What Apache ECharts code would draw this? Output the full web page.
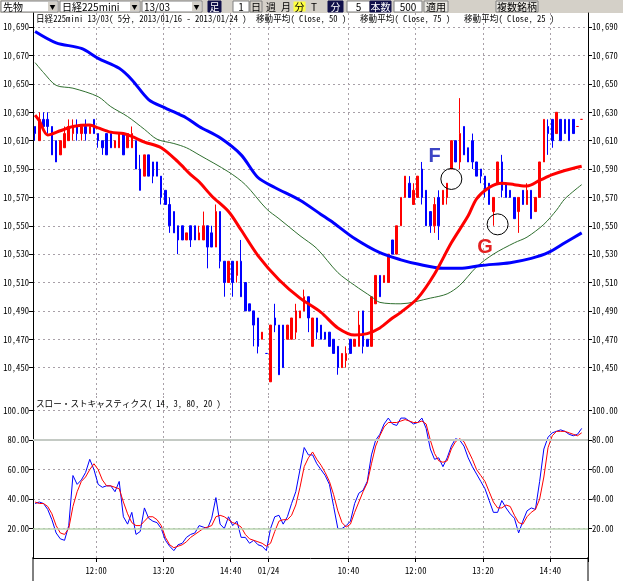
<!DOCTYPE html>
<html>
<head>
<meta charset="utf-8">
<script src="https://cdn.jsdelivr.net/npm/echarts@6/dist/echarts.min.js"></script>
<style>
  html, body { margin: 0; padding: 0; background: #fff; }
  #chart { width: 623px; height: 581px; }
</style>
</head>
<body>
<div id="chart"></div>
<script>
// 5分足 slots (bar index 0..131), labelled ticks
const barCount = 132;
const tickIdx  = [15, 31, 47, 56, 75, 91, 107, 123];
const tickText = ['12:00', '13:20', '14:40', '01/24', '10:40', '12:00', '13:20', '14:40'];

// candles: [open, close, low, high]
const candles = [
  [10620,10615,10610,10620],[10610,10625,10610,10630],[10625,10620,10620,10630],[10625,10620,10615,10630],
  [10620,10600,10600,10620],[10610,10595,10595,10610],[10600,10610,10600,10610],[10605,10615,10605,10620],
  [10610,10620,10610,10625],[10615,10620,10610,10625],[10620,10615,10610,10625],[10615,10620,10610,10620],
  [10620,10615,10610,10625],[10615,10620,10615,10620],[10625,10615,10615,10625],[10615,10610,10605,10615],
  [10610,10605,10600,10610],[10615,10600,10600,10615],[10615,10605,10605,10615],[10605,10610,10605,10610],
  [10605,10615,10605,10615],[10615,10600,10600,10615],[10605,10615,10605,10615],[10605,10615,10605,10620],
  [10610,10590,10590,10610],[10590,10575,10575,10600],[10585,10600,10585,10600],[10600,10585,10585,10600],
  [10595,10585,10580,10595],[10595,10585,10585,10595],[10585,10570,10565,10585],[10575,10565,10565,10575],
  [10565,10550,10545,10570],[10560,10545,10545,10560],[10550,10540,10530,10550],[10550,10540,10540,10550],
  [10540,10545,10540,10545],[10550,10540,10535,10550],[10550,10540,10540,10550],[10540,10545,10540,10550],
  [10540,10550,10540,10560],[10550,10535,10520,10550],[10545,10535,10535,10550],[10535,10560,10535,10565],
  [10560,10525,10520,10560],[10525,10510,10500,10525],[10510,10525,10510,10525],[10525,10510,10500,10525],
  [10515,10525,10510,10525],[10525,10500,10500,10540],[10510,10490,10490,10510],[10495,10490,10490,10495],
  [10490,10480,10465,10490],[10485,10465,10460,10485],[10470,10475,10470,10475],[10460,10460,10460,10460],
  [10440,10480,10440,10480],[10485,10480,10475,10495],[10480,10445,10445,10480],[10480,10450,10450,10480],
  [10470,10480,10470,10480],[10470,10485,10470,10485],[10475,10490,10470,10495],[10485,10490,10485,10490],
  [10490,10500,10490,10505],[10500,10485,10475,10500],[10465,10485,10465,10485],[10485,10475,10470,10485],
  [10480,10470,10470,10480],[10475,10470,10470,10475],[10475,10465,10465,10475],[10470,10460,10460,10470],
  [10465,10450,10445,10465],[10450,10460,10450,10460],[10455,10460,10450,10465],[10470,10460,10460,10470],
  [10465,10470,10465,10470],[10465,10480,10465,10490],[10490,10465,10460,10490],[10470,10465,10465,10470],
  [10465,10500,10465,10500],[10495,10515,10495,10515],[10515,10500,10500,10515],[10510,10515,10510,10515],
  [10510,10530,10510,10530],[10540,10530,10530,10540],[10530,10550,10530,10550],[10550,10570,10550,10570],
  [10570,10585,10570,10585],[10580,10570,10570,10585],[10565,10575,10565,10580],[10570,10585,10570,10585],
  [10590,10570,10565,10595],[10575,10550,10550,10575],[10560,10550,10545,10560],[10550,10565,10545,10570],
  [10570,10550,10540,10575],[10565,10575,10565,10575],[10570,10580,10565,10580],[10590,10610,10590,10610],
  [10610,10595,10595,10610],[10595,10615,10590,10640],[10620,10600,10600,10620],[10605,10595,10595,10605],
  [10610,10595,10590,10615],[10595,10585,10585,10595],[10590,10585,10580,10590],[10585,10575,10570,10585],
  [10580,10565,10565,10580],[10560,10570,10550,10570],[10580,10595,10580,10595],[10595,10575,10570,10600],
  [10580,10570,10570,10580],[10575,10570,10570,10575],[10570,10555,10555,10570],[10560,10570,10545,10570],
  [10575,10565,10565,10575],[10565,10575,10565,10580],[10575,10555,10555,10575],[10560,10570,10560,10570],
  [10570,10595,10570,10595],[10595,10625,10595,10625],[10620,10615,10600,10625],[10625,10610,10605,10625],
  [10615,10630,10615,10630],[10625,10610,10610,10625],[10625,10615,10615,10625],[10625,10610,10610,10625],
  [10625,10615,10615,10625],[10620,10620,10620,10620],[10625,10625,10625,10625]
];

// moving averages: [bar index, value]
const ma75 = [[0,10687],[5,10679],[11,10675],[15,10668],[20,10661],[23,10653],[27,10639],[31,10633],
  [36,10626],[39,10620],[44,10612],[49,10600],[53,10584],[57,10577],[63,10568],[68,10558],[71,10552],
  [76,10541],[82,10531],[87,10526],[91,10523],[97,10520],[101,10520],[106,10522],[113,10524],
  [118,10527],[122,10531],[126,10538],[130,10545]];
const ma50 = [[0,10665],[2,10658],[5,10649],[9,10647],[15,10641],[18,10634],[22,10627],[26,10618],
  [29,10611],[33,10608],[36,10605],[39,10600],[46,10588],[50,10579],[55,10562],[58,10555],[63,10543],
  [67,10534],[72,10517],[76,10508],[80,10500],[82,10496],[87,10495],[94,10499],[98,10502],[101,10508],
  [105,10521],[109,10530],[114,10538],[117,10542],[121,10551],[124,10561],[126,10569],[130,10579]];
const ma25 = [[0,10628],[1,10624],[3,10614],[6,10617],[9,10620],[13,10621],[15,10619],[18,10616],
  [21,10615],[23,10613],[26,10609],[30,10605],[34,10595],[37,10586],[39,10581],[42,10571],[46,10560],
  [49,10547],[53,10529],[58,10512],[63,10499],[68,10489],[72,10478],[76,10473],[79,10474],[82,10478],
  [85,10485],[87,10489],[91,10499],[95,10516],[99,10538],[103,10557],[105,10569],[108,10577],
  [111,10580],[114,10579],[117,10578],[120,10582],[123,10586],[126,10589],[130,10592]];

// slow stochastics (14, 3)
const stochK = [37,38,37,33,26,17,13,12,22,56, 50,53,58,67,60,50,48,49,49,45,
  52,28,23,31,16,18,34,27,25,24, 20,12,8,5,9,10,14,16,17,22, 21,20,27,41,23,20,28,22,25,14,
  14,10,12,9,8,5,20,28,29,23, 28,37,45,60,75,70,70,64,60,56, 50,35,20,20,22,25,37,44,46,52,
  70,80,84,91,95,91,90,95,95,93, 91,92,95,88,74,67,68,62,68,76, 81,80,76,68,62,57,52,47,39,31,
  31,39,34,30,27,17,25,32,34,33, 52,74,82,85,86,87,86,84,83,84,88];
const stochD = [38,37,37,35,30,22,17,16,20,35, 45,52,55,60,64,60,53,49,49,48,
  47,38,30,24,22,22,25,28,28,26, 22,14,9,7,8,9,11,14,16,18, 20,21,22,28,29,28,26,24,23,21,
  16,13,12,11,10,8,10,18,25,26, 26,29,36,48,62,68,72,67,63,58, 52,43,32,24,21,23,31,38,45,51,
  64,76,83,89,92,92,92,93,94,93, 92,92,93,91,80,71,66,65,66,74, 79,81,79,73,67,60,56,52,45,38,
  34,34,36,35,29,24,23,28,31,33, 40,55,75,83,86,86,86,85,84,83,85];

// F / G annotations
const circleMarks = [[99, 10583], [110, 10551]];
const letterMarks = [['F', 95, 10599], ['G', 107, 10535]];

const MONO = '"Noto Sans Mono CJK JP", "Noto Sans CJK JP", monospace';
const CJK = '"Noto Sans CJK JP", sans-serif';
const gridLine = { color: '#a8a0a8', type: [2, 3], width: 1 };
const cats = [];
for (let i = 0; i < barCount; i++) cats.push(String(i));

function comma(v) {
  return String(Math.round(v)).replace(/\B(?=(\d{3})+(?!\d))/g, ',');
}
const isTick = (idx) => tickIdx.indexOf(idx) >= 0;

// toolbar widgets
const tb = [];
tb.push({ type: 'rect', shape: { x: 0, y: 0, width: 623, height: 13 }, style: { fill: '#d4d0c8' } });
function box(x, w, text, opt) {
  opt = opt || {};
  tb.push({ type: 'rect', shape: { x: x, y: 1, width: w, height: 11 },
    style: { fill: opt.fill || '#fff', stroke: opt.stroke || '#808080', lineWidth: 1 } });
  tb.push({ type: 'text', x: opt.center ? x + w / 2 : x + 2, y: 7,
    style: { text: text, fill: opt.color || '#000', font: '10px ' + CJK,
      align: opt.center ? 'center' : 'left', verticalAlign: 'middle' } });
  if (opt.drop) {
    tb.push({ type: 'rect', shape: { x: x + w - 10, y: 2, width: 9, height: 9 }, style: { fill: '#d4d0c8' } });
    tb.push({ type: 'text', x: x + w - 5.5, y: 7, style: { text: '▼', fill: '#000', font: '6px ' + CJK, align: 'center', verticalAlign: 'middle' } });
  }
}
box(1, 57, '先物', { drop: true });
box(60, 80, '日経225mini', { drop: true });
box(142, 60, '13/03', { drop: true });
box(208, 13, '足', { fill: '#10104a', stroke: '#10104a', color: '#fff', center: true });
box(233, 16, '1', { center: true });
box(250, 12, '日', { fill: '#d4d0c8', center: true });
box(264, 14, '週', { fill: '#d4d0c8', stroke: '#d4d0c8', center: true });
box(280, 12, '月', { fill: '#d4d0c8', stroke: '#d4d0c8', center: true });
box(293, 13, '分', { fill: '#ffff40', stroke: '#d4d0c8', center: true });
box(308, 12, 'T', { fill: '#d4d0c8', stroke: '#d4d0c8', center: true });
box(328, 15, '分', { fill: '#10104a', stroke: '#10104a', color: '#fff', center: true });
box(347, 23, '5', { center: true });
box(370, 21, '本数', { fill: '#10104a', stroke: '#10104a', color: '#fff', center: true });
box(394, 28, '500', { center: true });
box(424, 24, '適用', { fill: '#e8e6e0', center: true });
box(496, 42, '複数銘柄', { fill: '#e8e6e0', center: true });
// axis lines continue below the lower panel
tb.push({ type: 'line', shape: { x1: 33, y1: 557, x2: 33, y2: 581 }, style: { stroke: '#000', lineWidth: 1 } });
tb.push({ type: 'line', shape: { x1: 588, y1: 557, x2: 588, y2: 581 }, style: { stroke: '#000', lineWidth: 1 } });

const chart = echarts.init(document.getElementById('chart'));
chart.setOption({
  animation: false,
  backgroundColor: '#fff',
  textStyle: { fontFamily: MONO },
  title: [
    { text: '日経225mini 13/03( 5分, 2013/01/16 - 2013/01/24 )', left: 36, top: 14, padding: 0,
      textStyle: { fontSize: 8.6, fontWeight: 'normal', color: '#000', fontFamily: MONO } },
    { text: '移動平均( Close, 50 )', left: 256, top: 14, padding: 0,
      textStyle: { fontSize: 8.6, fontWeight: 'normal', color: '#000', fontFamily: MONO } },
    { text: '移動平均( Close, 75 )', left: 360, top: 14, padding: 0,
      textStyle: { fontSize: 8.6, fontWeight: 'normal', color: '#000', fontFamily: MONO } },
    { text: '移動平均( Close, 25 )', left: 464, top: 14, padding: 0,
      textStyle: { fontSize: 8.6, fontWeight: 'normal', color: '#000', fontFamily: MONO } },
    { text: 'スロー・ストキャスティクス( 14, 3, 80, 20 )', left: 36, top: 399, padding: 0,
      textStyle: { fontSize: 8.6, fontWeight: 'normal', color: '#000', fontFamily: MONO } }
  ],
  graphic: tb,
  grid: [
    { left: 33, right: 35, top: 13, height: 383 },
    { left: 33, right: 35, top: 396, bottom: 23 }
  ],
  xAxis: [
    { type: 'category', gridIndex: 0, data: cats, boundaryGap: true,
      axisLine: { show: false }, axisTick: { show: false }, axisLabel: { show: false },
      splitLine: { show: true, interval: isTick, lineStyle: gridLine } },
    { type: 'category', gridIndex: 1, data: cats, boundaryGap: true, offset: 3,
      axisLine: { show: true, lineStyle: { color: '#000', width: 1 } },
      axisTick: { show: true, interval: isTick, length: 4, lineStyle: { color: '#000' } },
      axisLabel: { show: true, interval: isTick, color: '#000', fontSize: 8.6, fontFamily: MONO,
        margin: 5, padding: [0, 4, 0, 0],
        formatter: (v) => { const k = tickIdx.indexOf(Number(v)); return k >= 0 ? tickText[k] : ''; } },
      splitLine: { show: true, interval: isTick, lineStyle: gridLine } }
  ],
  yAxis: [
    { type: 'value', gridIndex: 0, position: 'left', min: 10430, max: 10700, interval: 20,
      axisLine: { show: true, lineStyle: { color: '#000', width: 1 } },
      axisTick: { show: true, length: 4, lineStyle: { color: '#000' } },
      axisLabel: { color: '#000', fontSize: 8.6, fontFamily: MONO, margin: 4, formatter: comma,
        showMinLabel: false, showMaxLabel: false },
      splitLine: { show: true, showMinLine: false, showMaxLine: false, lineStyle: gridLine } },
    { type: 'value', gridIndex: 0, position: 'right', min: 10430, max: 10700, interval: 20,
      axisLine: { show: true, lineStyle: { color: '#000', width: 1 } },
      axisTick: { show: true, length: 4, lineStyle: { color: '#000' } },
      axisLabel: { color: '#000', fontSize: 8.6, fontFamily: MONO, margin: 4, formatter: comma,
        showMinLabel: false, showMaxLabel: false },
      splitLine: { show: false } },
    { type: 'value', gridIndex: 1, position: 'left', min: 0, max: 110, interval: 20,
      axisLine: { show: true, lineStyle: { color: '#000', width: 1 } },
      axisTick: { show: true, length: 4, lineStyle: { color: '#000' } },
      axisLabel: { color: '#000', fontSize: 8.6, fontFamily: MONO, margin: 4,
        formatter: (v) => v.toFixed(2), showMinLabel: false, showMaxLabel: false },
      splitLine: { show: true, showMinLine: false, showMaxLine: false, lineStyle: gridLine } },
    { type: 'value', gridIndex: 1, position: 'right', min: 0, max: 110, interval: 20,
      axisLine: { show: true, lineStyle: { color: '#000', width: 1 } },
      axisTick: { show: true, length: 4, lineStyle: { color: '#000' } },
      axisLabel: { color: '#000', fontSize: 8.6, fontFamily: MONO, margin: 4,
        formatter: (v) => v.toFixed(2), showMinLabel: false, showMaxLabel: false },
      splitLine: { show: false } }
  ],
  series: [
    { name: '日経225mini', type: 'candlestick', xAxisIndex: 0, yAxisIndex: 0, data: candles,
      barWidth: 2,
      itemStyle: { color: '#ff0000', color0: '#0000ff', borderColor: '#ff0000', borderColor0: '#0000ff', borderWidth: 1 } },
    { name: 'MA50', type: 'line', xAxisIndex: 0, yAxisIndex: 0, data: ma50, smooth: 0.3,
      showSymbol: false, lineStyle: { color: '#2f6f2f', width: 1 } },
    { name: 'MA75', type: 'line', xAxisIndex: 0, yAxisIndex: 0, data: ma75, smooth: 0.3,
      showSymbol: false, lineStyle: { color: '#0000ff', width: 3 } },
    { name: 'MA25', type: 'line', xAxisIndex: 0, yAxisIndex: 0, data: ma25, smooth: 0.3,
      showSymbol: false, lineStyle: { color: '#ff0000', width: 3 } },
    { name: 'circles', type: 'scatter', xAxisIndex: 0, yAxisIndex: 0, data: circleMarks,
      symbol: 'circle', symbolSize: 21, z: 5,
      itemStyle: { color: 'rgba(0,0,0,0)', borderColor: '#000', borderWidth: 1, opacity: 1 } },
    { name: 'letters', type: 'scatter', xAxisIndex: 0, yAxisIndex: 0, z: 6,
      data: letterMarks.map(m => ({ value: [m[1], m[2]], name: m[0],
        label: { color: m[0] === 'F' ? '#3c44c4' : '#e42020' } })),
      symbolSize: 2, itemStyle: { color: 'rgba(0,0,0,0)', opacity: 1 },
      label: { show: true, position: 'inside', formatter: (p) => p.name,
        fontSize: 20, fontWeight: 'bold', fontFamily: '"Liberation Sans", Arial, sans-serif' } },
    { name: '%K', type: 'line', xAxisIndex: 1, yAxisIndex: 2, data: stochK,
      showSymbol: false, lineStyle: { color: '#0000ff', width: 1 },
      markLine: { silent: true, symbol: ['none', 'none'], label: { show: false },
        data: [
          { yAxis: 80, lineStyle: { color: '#c4cac4', width: 2, type: 'solid' } },
          { yAxis: 20, lineStyle: { color: '#b8d4b0', width: 1.5, type: 'solid' } }
        ] } },
    { name: '%D', type: 'line', xAxisIndex: 1, yAxisIndex: 2, data: stochD,
      showSymbol: false, lineStyle: { color: '#ff0000', width: 1 } }
  ]
});
</script>
</body>
</html>
